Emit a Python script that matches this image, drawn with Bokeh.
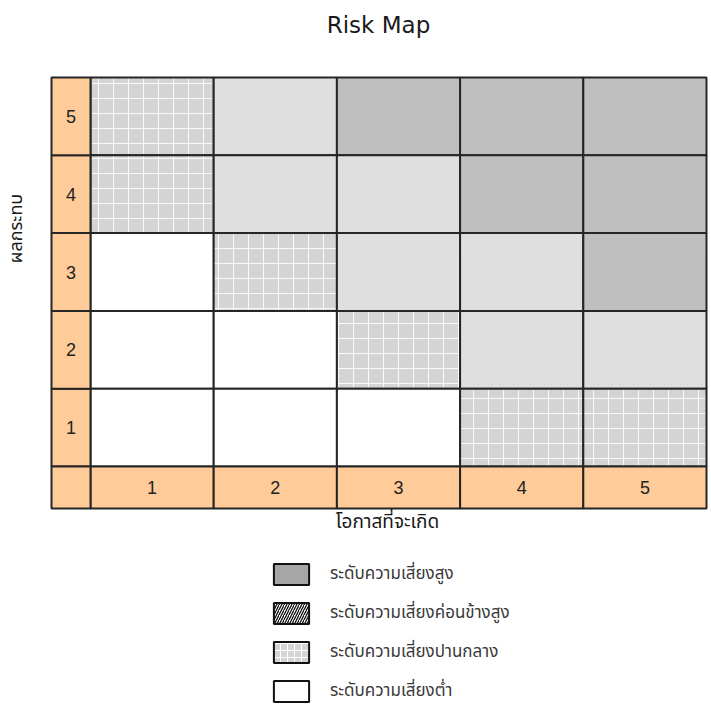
import math
from bokeh.plotting import figure
from bokeh.models import ColumnDataSource, Range1d, Label, Legend, LegendItem
from bokeh.embed import file_html
from bokeh.resources import INLINE

# ---- data ----
likelihood_labels = ["1", "2", "3", "4", "5"]
impact_labels = ["1", "2", "3", "4", "5"]
# risk level per cell, rows = impact 5 -> 1, columns = likelihood 1 -> 5
# 4 = high, 3 = fairly high, 2 = medium, 1 = low
risk_rows_top_down = [
    [2, 3, 4, 4, 4],
    [2, 3, 3, 4, 4],
    [1, 2, 3, 3, 4],
    [1, 1, 2, 3, 3],
    [1, 1, 1, 2, 2],
]
legend_labels = [
    "ระดับความเสี่ยงสูง",
    "ระดับความเสี่ยงค่อนข้างสูง",
    "ระดับความเสี่ยงปานกลาง",
    "ระดับความเสี่ยงต่ำ",
]
title_text = "Risk Map"
x_title = "โอกาสที่จะเกิด"
y_title = "ผลกระทบ"

# ---- styles / layout ----
cell_fill = {4: "#bfbfbf", 3: "#dfdfdf", 2: "#d4d4d4", 1: "#ffffff"}
cell_hatch = {4: " ", 3: " ", 2: "+", 1: " "}
header_fill = "#ffcc99"
grid_line = "#262626"
THAI = "Tahoma, 'Noto Sans Thai', 'Loma', 'Garuda', 'Norasi', 'DejaVu Sans', sans-serif"

W, H = 711, 713
px_x = 123.2          # pixels per likelihood step
px_y = 77.8           # pixels per impact step
origin_x = 90         # pixel column of likelihood boundary 0
origin_y = 466        # pixel row of impact boundary 0 (from top)
hdr_w = 39 / px_x
hdr_h = 42 / px_y

p = figure(
    width=W, height=H,
    x_range=Range1d(-origin_x / px_x, (W - origin_x) / px_x),
    y_range=Range1d(-(H - origin_y) / px_y, origin_y / px_y),
    output_backend="svg", toolbar_location=None,
    min_border=0,
)
p.axis.visible = False
p.grid.visible = False
p.outline_line_color = None
p.background_fill_color = "white"
p.border_fill_color = "white"

# cells
xs, ys, fills, hatches = [], [], [], []
n = len(impact_labels)
for r, row in enumerate(risk_rows_top_down):
    impact = n - r
    for c, lvl in enumerate(row):
        xs.append(c + 0.5)
        ys.append(impact - 0.5)
        fills.append(cell_fill[lvl])
        hatches.append(cell_hatch[lvl])
src = ColumnDataSource(dict(x=xs, y=ys, fill=fills, hatch=hatches))
p.rect(x="x", y="y", width=1, height=1, source=src,
       fill_color="fill", hatch_pattern="hatch", hatch_color="white",
       hatch_scale=15, hatch_weight=1, hatch_alpha=0.85,
       line_color=grid_line, line_width=2)

# header column (impact) and header row (likelihood)
hy = [i + 0.5 for i in range(len(impact_labels))]
hsrc = ColumnDataSource(dict(x=[-hdr_w / 2] * len(hy), y=hy, t=impact_labels))
p.rect(x="x", y="y", width=hdr_w, height=1, source=hsrc,
       fill_color=header_fill, line_color=grid_line, line_width=2)
p.text(x="x", y="y", text="t", source=hsrc, text_align="center",
       text_baseline="middle", text_font_size="18px", text_color="#222222")

hx = [i + 0.5 for i in range(len(likelihood_labels))]
vsrc = ColumnDataSource(dict(x=hx, y=[-hdr_h / 2] * len(hx), t=likelihood_labels))
p.rect(x="x", y="y", width=1, height=hdr_h, source=vsrc,
       fill_color=header_fill, line_color=grid_line, line_width=2)
p.text(x="x", y="y", text="t", source=vsrc, text_align="center",
       text_baseline="middle", text_font_size="18px", text_color="#222222")
p.rect(x=[-hdr_w / 2], y=[-hdr_h / 2], width=hdr_w, height=hdr_h,
       fill_color=header_fill, line_color=grid_line, line_width=2)

# titles (screen units, origin bottom-left of the canvas-sized frame)
p.add_layout(Label(x=378, y=H - 24, x_units="screen", y_units="screen",
                   text=title_text, text_align="center", text_baseline="middle",
                   text_font="Tahoma, 'DejaVu Sans', sans-serif",
                   text_font_size="23px", text_color="#1a1a1a"))
p.add_layout(Label(x=387, y=H - 522, x_units="screen", y_units="screen",
                   text=x_title, text_align="center", text_baseline="middle",
                   text_font=THAI, text_font_size="19px", text_color="#1a1a1a"))
p.add_layout(Label(x=16, y=H - 228, x_units="screen", y_units="screen",
                   angle=math.pi / 2, text=y_title, text_align="center",
                   text_baseline="middle",
                   text_font=THAI, text_font_size="18px", text_color="#1a1a1a"))

# legend (renderers hold a single NaN point so nothing shows in the grid)
def swatch(**kw):
    s = ColumnDataSource(dict(x=[float("nan")], y=[float("nan")]))
    return p.rect(x="x", y="y", width=1, height=1, source=s,
                  line_color="#111111", line_width=2, **kw)

r_high = swatch(fill_color="#a6a6a6")
r_fhigh = swatch(fill_color="white", hatch_pattern="/", hatch_color="#111111",
                 hatch_scale=5, hatch_weight=1.3)
r_med = swatch(fill_color="#d4d4d4", hatch_pattern="+", hatch_color="white",
               hatch_scale=7, hatch_weight=1)
r_low = swatch(fill_color="white")

legend = Legend(
    items=[LegendItem(label=legend_labels[0], renderers=[r_high]),
           LegendItem(label=legend_labels[1], renderers=[r_fhigh]),
           LegendItem(label=legend_labels[2], renderers=[r_med]),
           LegendItem(label=legend_labels[3], renderers=[r_low])],
    location=(269, 9), orientation="vertical",
    glyph_width=44, glyph_height=26, label_height=20, spacing=13,
    label_standoff=17, padding=0, margin=0,
    label_text_font=THAI, label_text_font_size="17px", label_text_color="#3a3a3a",
    background_fill_alpha=0, border_line_color=None,
)
p.add_layout(legend, "center")

open("out.html", "w").write(file_html(p, INLINE))
